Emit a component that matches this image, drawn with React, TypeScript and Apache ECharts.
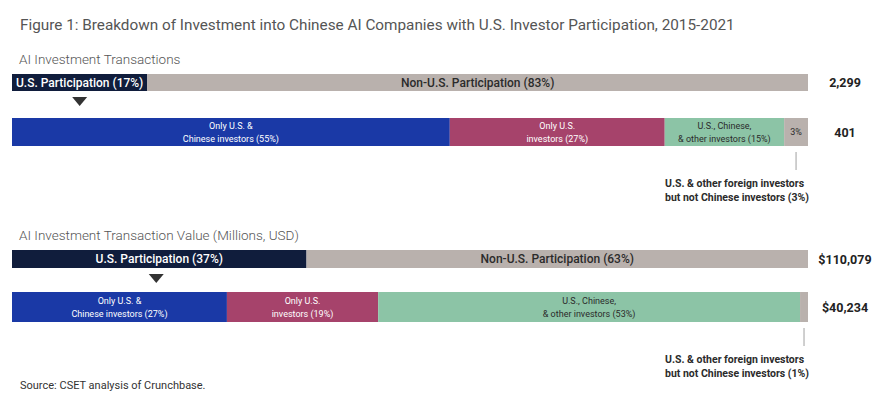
import React, { useEffect, useRef } from "react";
import * as echarts from "echarts";

// ---- Data ----
const splitNames = ["U.S. Participation", "Non-U.S. Participation"];
const txSplit = [17, 83];
const valSplit = [37, 63];

const usNames = [
  "Only U.S. &\nChinese investors",
  "Only U.S.\ninvestors",
  "U.S., Chinese,\n& other investors",
  "U.S. & other foreign investors\nbut not Chinese investors",
];
const txUsShares = [55, 27, 15, 3];
const valUsShares = [27, 19, 53, 1];

const txTotals = ["2,299", "401"];
const valTotals = ["$110,079", "$40,234"];

const figTitle =
  "Figure 1: Breakdown of Investment into Chinese AI Companies with U.S. Investor Participation, 2015-2021";
const txTitle = "AI Investment Transactions";
const valTitle = "AI Investment Transaction Value (Millions, USD)";
const sourceNote = "Source: CSET analysis of Crunchbase.";

// ---- Styles / layout ----
const FONT = "Roboto, 'Noto Sans', sans-serif";
const GL = 12;
const GW = 796;
const grids = [
  { top: 74, height: 17 },
  { top: 118, height: 28 },
  { top: 250, height: 18 },
  { top: 292, height: 30 },
];
const splitColors = ["#101d3c", "#b9b1ad"];
const splitText = ["#ffffff", "#2b2b2b"];
const usColors = ["#1a39a6", "#a6436b", "#8cc4a6", "#b9b1ad"];
const usText = ["#ffffff", "#ffffff", "#2b2b2b", "#2b2b2b"];

export default function App() {
  const ref = useRef<HTMLDivElement>(null);
  useEffect(() => {
    if (!ref.current) return;
    const chart = echarts.init(ref.current, null, { renderer: "svg" });

    const gridIdx = [0, 1, 2, 3];
    const totalsFor = [txTotals[0], txTotals[1], valTotals[0], valTotals[1]];
    const valuesFor = [txSplit, txUsShares, valSplit, valUsShares];

    const series: any[] = [];
    gridIdx.forEach((g) => {
      const vals = valuesFor[g];
      const isSplit = g % 2 === 0;
      vals.forEach((v, k) => {
        let text = "";
        if (isSplit) text = `${splitNames[k]} (${v}%)`;
        else if (k < 3) text = `${usNames[k]} (${v}%)`;
        else if (g === 1) text = `${v}%`;
        series.push({
          type: "bar",
          name: isSplit ? splitNames[k] : usNames[k],
          xAxisIndex: g,
          yAxisIndex: g,
          stack: "s" + g,
          barWidth: "100%",
          data: [v],
          itemStyle: { color: isSplit ? splitColors[k] : usColors[k] },
          label: {
            show: text !== "",
            position: "inside",
            formatter: () => text,
            color: isSplit ? splitText[k] : usText[k],
            fontFamily: FONT,
            fontSize: isSplit ? 12 : 9,
            fontWeight: isSplit ? 500 : 400,
            lineHeight: isSplit ? 14 : 13,
            align: "center",
          },
        });
      });
    });

    // decorations derived from data
    const segCenter = (vals: number[], k: number) => {
      let c = 0;
      for (let i = 0; i < k; i++) c += vals[i];
      return GL + ((c + vals[k] / 2) * GW) / 100;
    };
    const graphic: any[] = [];
    [
      [txSplit, 1, txUsShares],
      [valSplit, 3, valUsShares],
    ].forEach(([split, g, us]: any) => {
      const cx = segCenter(split, 0) - (g === 3 ? 3 : 0);
      const ty = grids[g - 1].top + grids[g - 1].height + 6;
      graphic.push({
        type: "polygon",
        shape: { points: [[cx - 7.5, ty], [cx + 7.5, ty], [cx, ty + 9]] },
        style: { fill: "#333333" },
      });
      const lx = segCenter(us, 3);
      const by = grids[g].top + grids[g].height;
      graphic.push({
        type: "line",
        shape: { x1: lx, y1: by + 6, x2: lx, y2: by + 24 },
        style: { stroke: "#a0a0a0", lineWidth: 1 },
      });
      graphic.push({
        type: "text",
        x: 665,
        y: by + 31,
        style: {
          text: `U.S. & other foreign investors\nbut not Chinese investors (${us[3]}%)`,
          fill: "#2b2b2b",
          font: `bold 10.5px ${FONT}`,
          lineHeight: 13.5,
        },
      });
    });

    chart.setOption({
      animation: false,
      backgroundColor: "#ffffff",
      title: [
        { text: figTitle, left: 15, top: 12, textStyle: { fontFamily: FONT, fontSize: 15.3, fontWeight: 400, color: "#555555" } },
        { text: txTitle, left: 14, top: 47, textStyle: { fontFamily: FONT, fontSize: 13.5, fontWeight: 300, color: "#555555" } },
        { text: valTitle, left: 14, top: 223, textStyle: { fontFamily: FONT, fontSize: 13.5, fontWeight: 300, color: "#555555" } },
        { text: sourceNote, left: 15, top: 375, textStyle: { fontFamily: FONT, fontSize: 11, fontWeight: 400, color: "#333333" } },
      ],
      grid: grids.map((gr) => ({ left: GL, width: GW, top: gr.top, height: gr.height })),
      xAxis: gridIdx.map((g) => ({ type: "value", gridIndex: g, min: 0, max: 100, show: false })),
      yAxis: gridIdx.map((g) => ({
        type: "category",
        gridIndex: g,
        position: "right",
        data: [totalsFor[g]],
        axisLine: { show: false },
        axisTick: { show: false },
        axisLabel: {
          show: true,
          margin: 37,
          align: "center",
          color: "#222222",
          fontFamily: FONT,
          fontSize: 12.5,
          fontWeight: "bold",
        },
      })),
      series,
      graphic,
    });
    return () => chart.dispose();
  }, []);
  return (
    <div
      ref={ref}
      style={{ position: "fixed", left: 0, top: 0, width: 891, height: 399, background: "#fff" }}
    />
  );
}
